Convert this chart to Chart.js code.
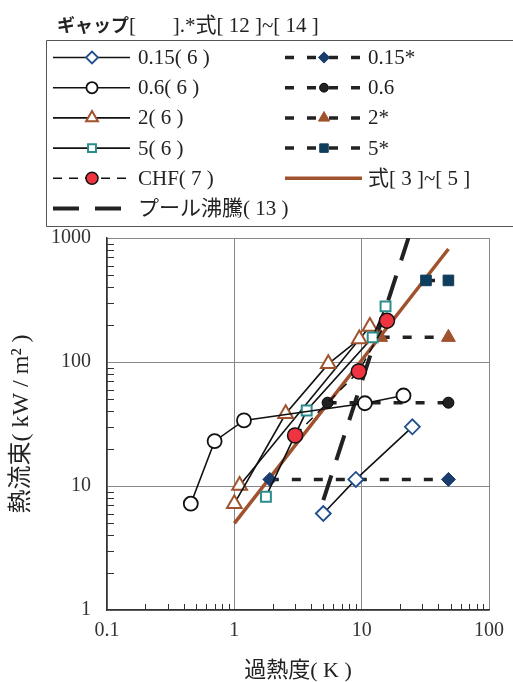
<!DOCTYPE html>
<html>
<head>
<meta charset="utf-8">
<script src="https://cdn.jsdelivr.net/npm/chart.js@4/dist/chart.umd.min.js"></script>
<style>
  body { margin: 0; background: #fff; }
  canvas { display: block; }
</style>
</head>
<body>
<canvas id="chart" width="513" height="682"></canvas>
<script>
// 過熱度 (K) と 熱流束 (kW/m2)、グラフから読み取った値
const xTicks = [0.1, 1, 10, 100];
const yTicks = [1, 10, 100, 1000];

const gap015_dT = [5.0, 9.0, 25];
const gap015_q = [6.0, 11.3, 30];
const gap015s_dT = [1.9, 48];
const gap015s_q = [11.3, 11.3];

const gap06_dT = [0.455, 0.70, 1.19, 10.6, 21.3];
const gap06_q = [7.2, 23, 33.8, 46.5, 53.7];
const gap06s_dT = [5.4, 48];
const gap06s_q = [47, 47];

const gap2a_dT = [1.0, 2.53, 5.47, 9.58];
const gap2a_q = [7.2, 38.2, 96.6, 153];
const gap2b_dT = [1.1, 11.6];
const gap2b_q = [10.1, 193];
const gap2s_dT = [14.1, 48];
const gap2s_q = [158, 158];

const gap5_dT = [1.77, 3.7, 12.2, 15.4];
const gap5_q = [8.2, 40.6, 158, 281];
const gap5s_dT = [32, 48];
const gap5s_q = [455, 455];

const chf_dT = [3.0, 9.5, 15.8];
const chf_q = [25.6, 84, 215];

const eq_dT = [1, 48];
const eq_q = [5.0, 815];

const pool_dT = [5.0, 23.3];
const pool_q = [7.7, 1000];

const legendTitleKana = "ギャップ";
const legendTitleRest = "[       ].*式[ 12 ]~[ 14 ]";
const legendLeft = ["0.15( 6 )", "0.6( 6 )", "2( 6 )", "5( 6 )", "CHF( 7 )", "プール沸騰( 13 )"];
const legendRight = ["0.15*", "0.6", "2*", "5*", "式[ 3 ]~[ 5 ]"];

const BROWN = "#a0522d";
const TEXTFONT = '21px "Liberation Serif", "Noto Sans CJK JP"';

function pts(xs, ys) {
  return xs.map((v, i) => ({ x: v, y: ys[i] }));
}

function series(xs, ys, style) {
  return Object.assign({
    data: pts(xs, ys),
    showLine: true,
    borderColor: "#111",
    borderWidth: 1.6,
    pointRadius: 0,
    pointBorderWidth: 1.8,
    order: 5
  }, style);
}

const datasets = [
  series(gap015_dT, gap015_q, { pointStyle: "rectRot", pointRadius: 7.5, pointBackgroundColor: "#fff", pointBorderColor: "#1f4e8c" }),
  series(gap06_dT, gap06_q, { pointStyle: "circle", pointRadius: 7, pointBackgroundColor: "#fff", pointBorderColor: "#111" }),
  series(gap2a_dT, gap2a_q, { pointStyle: "triangle", pointRadius: 8.5, pointBackgroundColor: "#fff", pointBorderColor: BROWN, pointBorderWidth: 2 }),
  series(gap5_dT, gap5_q, { pointStyle: "rect", pointRadius: 7, pointBackgroundColor: "#fff", pointBorderColor: "#2a8c8c", pointBorderWidth: 2 }),
  series(chf_dT, chf_q, { borderDash: [9, 7], borderWidth: 1.5, pointStyle: "circle", pointRadius: 7.5, pointBackgroundColor: "#ef3340", pointBorderColor: "#111", pointBorderWidth: 1.5, order: 1 }),
  series(pool_dT, pool_q, { borderColor: "#222", borderWidth: 4, borderDash: [26, 16], order: 8 }),
  series(gap015s_dT, gap015s_q, { borderColor: "#222", borderWidth: 3.5, borderDash: [9, 13], pointStyle: "rectRot", pointRadius: 7, pointBackgroundColor: "#1b3d6e", pointBorderColor: "#1b3d6e", pointBorderWidth: 1, order: 6 }),
  series(gap06s_dT, gap06s_q, { borderColor: "#222", borderWidth: 3.5, borderDash: [9, 13], pointStyle: "circle", pointRadius: 5.5, pointBackgroundColor: "#222", pointBorderColor: "#000", pointBorderWidth: 1, order: 6 }),
  series(gap2s_dT, gap2s_q, { borderColor: "#222", borderWidth: 3.5, borderDash: [9, 13], pointStyle: "triangle", pointRadius: 8, pointBackgroundColor: BROWN, pointBorderColor: BROWN, pointBorderWidth: 1, order: 6 }),
  series(gap5s_dT, gap5s_q, { borderColor: "#222", borderWidth: 3.5, borderDash: [9, 13], pointStyle: "rect", pointRadius: 7.5, pointBackgroundColor: "#0f3d5c", pointBorderColor: "#0f3d5c", pointBorderWidth: 1, order: 6 }),
  series(eq_dT, eq_q, { borderColor: BROWN, borderWidth: 3.5, order: 9 }),
  series(gap2b_dT, gap2b_q, { pointStyle: "triangle", pointRadius: 8.5, pointBackgroundColor: "#fff", pointBorderColor: BROWN, pointBorderWidth: 2 })
];

// legend: [dataset index, label]
const legendCol1 = [0, 1, 2, 3, 4, 5].map((d, i) => [d, legendLeft[i]]);
const legendCol2 = [6, 7, 8, 9, 10].map((d, i) => [d, legendRight[i]]);

function drawSample(ctx, ds, x0, x1, y) {
  ctx.save();
  ctx.strokeStyle = ds.borderColor;
  ctx.lineWidth = ds.borderWidth;
  ctx.setLineDash(ds.borderDash || []);
  ctx.beginPath();
  ctx.moveTo(x0, y);
  ctx.lineTo(x1, y);
  ctx.stroke();
  ctx.setLineDash([]);
  if (ds.pointRadius) {
    ctx.fillStyle = ds.pointBackgroundColor;
    ctx.strokeStyle = ds.pointBorderColor;
    ctx.lineWidth = ds.pointBorderWidth;
    Chart.helpers.drawPoint(ctx, {
      pointStyle: ds.pointStyle,
      radius: ds.pointRadius * 0.8,
      borderWidth: ds.pointBorderWidth,
      rotation: 0
    }, (x0 + x1) / 2 + 0.5, y);
  }
  ctx.restore();
}

const legendBox = {
  id: "legendBox",
  afterDraw(chart) {
    const ctx = chart.ctx;
    const ds = chart.data.datasets;
    ctx.save();
    ctx.fillStyle = "#222";
    ctx.textBaseline = "middle";
    ctx.font = 'bold 18px "Noto Sans CJK JP"';
    ctx.fillText(legendTitleKana, 57, 25);
    const kw = ctx.measureText(legendTitleKana).width;
    ctx.font = '21px "Liberation Serif", "Noto Sans CJK JP"';
    ctx.fillText(legendTitleRest, 57 + kw, 26);

    ctx.strokeStyle = "#555";
    ctx.lineWidth = 1;
    ctx.beginPath();
    ctx.moveTo(520, 40.5);
    ctx.lineTo(46.5, 40.5);
    ctx.lineTo(46.5, 226.5);
    ctx.lineTo(520, 226.5);
    ctx.stroke();

    ctx.font = TEXTFONT;
    legendCol1.forEach(([d, label], i) => {
      const y = 57.5 + i * 30.2;
      drawSample(ctx, ds[d], 53, 130, y);
      ctx.fillStyle = "#222";
      ctx.fillText(label, 138, y + 1);
    });
    legendCol2.forEach(([d, label], i) => {
      const y = 57.5 + i * 30.2;
      drawSample(ctx, ds[d], 285, 362, y);
      ctx.fillStyle = "#222";
      ctx.fillText(label, 368, y + 1);
    });
    ctx.restore();
  }
};

const minorTicks = {
  id: "minorTicks",
  afterDraw(chart) {
    const { ctx, chartArea: a, scales: { x, y } } = chart;
    ctx.save();
    ctx.strokeStyle = "#333";
    ctx.lineWidth = 1;
    ctx.beginPath();
    for (let d = 0; d < xTicks.length - 1; d++) {
      for (let k = 2; k < 10; k++) {
        const px = Math.round(x.getPixelForValue(xTicks[d] * k)) + 0.5;
        ctx.moveTo(px, a.bottom);
        ctx.lineTo(px, a.bottom - 6);
      }
    }
    for (let d = 0; d < yTicks.length - 1; d++) {
      for (let k = 2; k < 10; k++) {
        const py = Math.round(y.getPixelForValue(yTicks[d] * k)) + 0.5;
        ctx.moveTo(a.left, py);
        ctx.lineTo(a.left + 7, py);
      }
    }
    ctx.stroke();
    ctx.restore();
  }
};

const tickFont = { family: '"Liberation Serif", "DejaVu Serif", serif', size: 20 };
const titleFont = { family: '"Liberation Serif", "Noto Sans CJK JP"', size: 22, lineHeight: 1 };

new Chart(document.getElementById("chart"), {
  type: "scatter",
  data: { datasets: datasets },
  options: {
    responsive: false,
    animation: false,
    devicePixelRatio: 1,
    layout: { padding: { top: 238, right: 17, left: 0, bottom: 0 } },
    plugins: {
      legend: { display: false },
      tooltip: { enabled: false }
    },
    scales: {
      x: {
        type: "logarithmic",
        min: 0.1,
        max: 100,
        afterBuildTicks: s => { s.ticks = xTicks.map(v => ({ value: v })); },
        afterFit: s => { s.height = 72; },
        ticks: { callback: v => String(v), font: tickFont, color: "#333", padding: 9, maxRotation: 0, autoSkip: false },
        grid: { color: "#888", lineWidth: 1, drawTicks: false },
        border: { color: "#333", width: 1.5 },
        title: { display: true, text: "過熱度( K )", font: titleFont, color: "#222", padding: { top: -2, bottom: 0 } }
      },
      y: {
        type: "logarithmic",
        min: 1,
        max: 1000,
        afterBuildTicks: s => { s.ticks = yTicks.map(v => ({ value: v })); },
        afterFit: s => { s.width = 107; },
        ticks: { callback: v => String(v), font: tickFont, color: "#333", padding: 16, autoSkip: false },
        grid: { color: "#888", lineWidth: 1, drawTicks: false },
        border: { color: "#333", width: 1.5 },
        title: { display: true, text: "熱流束( kW / m² )", font: { family: '"Liberation Serif", "Noto Sans CJK JP"', size: 24, lineHeight: 1 }, color: "#222", padding: { top: 10, bottom: 0 } }
      }
    }
  },
  plugins: [minorTicks, legendBox]
});
</script>
</body>
</html>
